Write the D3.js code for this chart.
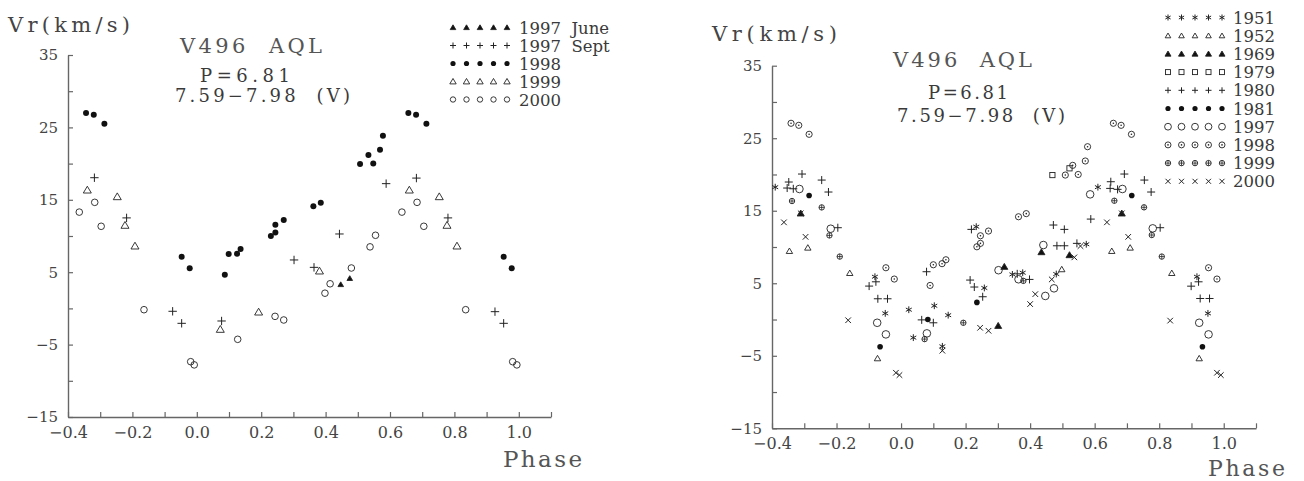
<!DOCTYPE html>
<html>
<head>
<meta charset="utf-8">
<script src="https://cdn.jsdelivr.net/npm/d3@7"></script>
<style>
  body { margin: 0; background: #fff; }
  text { font-family: "DejaVu Serif", serif; fill: #3a3a3a; }
</style>
</head>
<body>
<div id="main-container"></div>
<script>
// DATA  (phase, Vr km/s)
const phaseLabels = [-0.4, -0.2, 0.0, 0.2, 0.4, 0.6, 0.8, 1.0];
const vrLabels = [35, 25, 15, 5, -5, -15];

// left panel
const june97L = [[0.447,3.3],[0.475,4.15]];
const sept97L = [[-0.318,18.05],[-0.218,12.5],[-0.075,-0.4],[-0.047,-2.06],[0.077,-1.74],[0.302,6.69],
  [0.364,5.67],[0.443,10.28],[0.588,17.23],[0.682,18.0],[0.780,12.5],[0.926,-0.45],[0.953,-2.06]];
const y1998L = [[-0.344,27.0],[-0.320,26.75],[-0.287,25.5],[-0.047,7.14],[-0.022,5.54],[0.087,4.66],
  [0.099,7.5],[0.125,7.56],[0.136,8.2],[0.230,10.0],[0.244,10.5],[0.244,11.57],[0.270,12.2],[0.362,14.1],
  [0.385,14.6],[0.507,19.94],[0.548,20.0],[0.533,21.2],[0.569,21.9],[0.578,23.85],[0.657,27.0],
  [0.681,26.75],[0.713,25.5],[0.953,7.14],[0.978,5.54]];
const y1999L = [[-0.340,16.35],[-0.247,15.43],[-0.223,11.48],[-0.192,8.62],[0.073,-2.89],[0.192,-0.5],
  [0.381,5.17],[0.660,16.35],[0.753,15.43],[0.777,11.48],[0.808,8.62]];
const y2000L = [[-0.365,13.3],[-0.317,14.65],[-0.297,11.34],[-0.164,-0.18],[-0.019,-7.36],[-0.008,-7.8],
  [0.127,-4.27],[0.243,-1.1],[0.270,-1.6],[0.398,2.1],[0.414,3.4],[0.480,5.58],[0.538,8.5],[0.555,10.1],
  [0.637,13.3],[0.684,14.65],[0.705,11.34],[0.835,-0.18],[0.981,-7.36],[0.994,-7.8]];

// right panel
const r1951 = [[-0.390,18.25],[-0.081,5.9],[-0.049,0.85],[0.024,1.35],[0.038,-2.5],[0.103,1.9],
  [0.128,-3.7],[0.146,0.6],[0.233,12.8],[0.258,4.35],[0.345,6.22],[0.377,6.45],[0.481,6.27],
  [0.574,10.38],[0.610,18.25],[0.917,5.9],[0.951,0.85]];
const r1952 = [[-0.346,9.44],[-0.289,9.9],[-0.159,6.4],[-0.073,-5.36],[0.498,6.92],[0.653,9.44],
  [0.710,9.9],[0.839,6.4],[0.924,-5.36]];
const r1969 = [[-0.311,14.64],[0.301,-0.86],[0.320,7.28],[0.435,9.3],[0.522,8.89],[0.684,14.64]];
const r1979 = [[0.469,19.92],[0.522,20.85]];
const r1980 = [[-0.348,18.96],[-0.353,18.13],[-0.334,18.03],[-0.307,20.06],[-0.246,19.23],[-0.225,17.58],
  [-0.196,12.66],[-0.099,4.61],[-0.078,5.2],[-0.072,2.86],[-0.042,2.86],[0.064,-0.05],[0.079,6.59],
  [0.100,-0.45],[0.214,5.44],[0.218,12.43],[0.227,4.48],[0.253,3.14],[0.360,6.3],[0.398,5.53],
  [0.472,13.03],[0.483,10.17],[0.506,10.17],[0.506,12.43],[0.545,10.5],[0.588,13.85],[0.650,19.0],
  [0.648,18.08],[0.671,17.95],[0.692,20.06],[0.754,19.23],[0.775,17.58],[0.803,12.66],[0.899,4.6],
  [0.922,5.2],[0.927,2.9],[0.956,2.9]];
const r1981 = [[-0.285,17.1],[-0.065,-3.76],[0.083,0.0],[0.235,2.36],[0.715,17.1],[0.934,-3.76]];
const r1997 = [[-0.315,18.0],[-0.218,12.52],[-0.074,-0.45],[-0.047,-2.05],[0.080,-1.91],[0.302,6.8],
  [0.364,5.55],[0.441,10.27],[0.447,3.25],[0.474,4.3],[0.586,17.26],[0.686,18.0],[0.780,12.57],
  [0.924,-0.45],[0.953,-2.05]];
const r1998 = [[-0.341,27.06],[-0.317,26.78],[-0.285,25.54],[-0.047,7.14],[-0.021,5.58],[0.090,4.7],
  [0.100,7.55],[0.127,7.7],[0.139,8.24],[0.235,10.03],[0.246,10.5],[0.246,11.55],[0.271,12.2],
  [0.364,14.17],[0.388,14.6],[0.509,19.92],[0.549,20.0],[0.532,21.26],[0.571,21.86],[0.578,23.83],
  [0.658,27.06],[0.682,26.78],[0.714,25.54],[0.953,7.14],[0.979,5.58]];
const r1999 = [[-0.338,16.34],[-0.246,15.46],[-0.222,11.6],[-0.190,8.68],[0.073,-2.7],[0.193,-0.45],
  [0.379,5.33],[0.661,16.38],[0.753,15.47],[0.777,11.65],[0.808,8.68]];
const r2000 = [[-0.363,13.4],[-0.311,14.64],[-0.296,11.4],[-0.164,-0.1],[-0.016,-7.34],[-0.005,-7.66],
  [0.128,-4.3],[0.245,-1.14],[0.271,-1.55],[0.400,2.13],[0.416,3.5],[0.467,5.53],[0.537,8.57],
  [0.556,10.13],[0.638,13.4],[0.684,14.64],[0.704,11.4],[0.834,-0.15],[0.979,-7.34],[0.991,-7.66]];

const leftSeries = [
  {label: "1997  June", data: june97L, type: "triFill", size: 2.8, lsize: 2.8},
  {label: "1997  Sept", data: sept97L, type: "plus", size: 4.2, lsize: 3},
  {label: "1998", data: y1998L, type: "dot", size: 3, lsize: 2.6},
  {label: "1999", data: y1999L, type: "tri", size: 4, lsize: 3.2},
  {label: "2000", data: y2000L, type: "circle", size: 3.3, lsize: 2.7}
];
const rightSeries = [
  {label: "1951", data: r1951, type: "star", size: 3.4, lsize: 3},
  {label: "1952", data: r1952, type: "tri", size: 3.2, lsize: 2.8},
  {label: "1969", data: r1969, type: "triFill", size: 3.5, lsize: 3},
  {label: "1979", data: r1979, type: "square", size: 2.6, lsize: 2.5},
  {label: "1980", data: r1980, type: "plus", size: 4, lsize: 3},
  {label: "1981", data: r1981, type: "dot", size: 2.8, lsize: 2.6},
  {label: "1997", data: r1997, type: "circle", size: 3.8, lsize: 3.4},
  {label: "1998", data: r1998, type: "odot", size: 3.1, lsize: 3},
  {label: "1999", data: r1999, type: "oplus", size: 2.7, lsize: 2.7},
  {label: "2000", data: r2000, type: "times", size: 2.8, lsize: 2.5}
];

const ink = "#222";

function drawMark(g, type, s) {
  if (type === "dot") {
    g.append("circle").attr("r", s).attr("fill", "#111");
  } else if (type === "circle" || type === "odot" || type === "oplus") {
    g.append("circle").attr("r", s).attr("fill", "none").attr("stroke", ink).attr("stroke-width", 0.9);
    if (type === "odot") g.append("circle").attr("r", 0.8).attr("fill", ink);
    if (type === "oplus") g.append("path").attr("d", `M${-s},0H${s}M0,${-s}V${s}`)
      .attr("stroke", ink).attr("stroke-width", 0.8);
  } else if (type === "tri" || type === "triFill") {
    g.append("path").attr("d", `M0,${-s * 0.95}L${s},${s * 0.75}L${-s},${s * 0.75}Z`)
      .attr("fill", type === "triFill" ? "#111" : "none")
      .attr("stroke", ink).attr("stroke-width", 0.9);
  } else if (type === "square") {
    g.append("rect").attr("x", -s).attr("y", -s).attr("width", 2 * s).attr("height", 2 * s)
      .attr("fill", "none").attr("stroke", ink).attr("stroke-width", 0.9);
  } else {
    let d;
    if (type === "plus") d = `M${-s},0H${s}M0,${-s}V${s}`;
    else if (type === "times") d = `M${-s},${-s}L${s},${s}M${-s},${s}L${s},${-s}`;
    else {
      const a = s * 0.87, b = s * 0.5;
      d = `M0,${-s}V${s}M${-a},${-b}L${a},${b}M${-a},${b}L${a},${-b}`;
    }
    g.append("path").attr("d", d).attr("stroke", ink).attr("stroke-width", 1).attr("fill", "none");
  }
}

function drawPanel(svg, cfg) {
  const x = d3.scaleLinear().domain([-0.4, 1.1]).range(cfg.xr);
  const y = d3.scaleLinear().domain([-15, 35]).range(cfg.yr);

  const xAxis = svg.append("g")
    .attr("transform", `translate(0, ${cfg.yr[0]})`)
    .call(d3.axisBottom(x)
      .tickValues(d3.range(-4, 12).map(d => d / 10))
      .tickSizeInner(-5).tickSizeOuter(0).tickPadding(9.6)
      .tickFormat(d => phaseLabels.some(p => Math.abs(p - d) < 1e-9) ? d3.format(".1f")(d) : ""));

  const yAxis = svg.append("g")
    .attr("transform", `translate(${cfg.xr[0]}, 0)`)
    .call(d3.axisLeft(y)
      .tickValues(d3.range(-15, 40, 5))
      .tickSizeInner(-5).tickSizeOuter(0).tickPadding(10)
      .tickFormat(d => vrLabels.includes(d) ? d3.format("d")(d) : ""));

  [xAxis, yAxis].forEach(a => {
    a.attr("font-family", null);
    a.select(".domain").attr("stroke", "#666").attr("stroke-width", 1.4);
    a.selectAll(".tick line").attr("stroke", "#666").attr("stroke-width", 1.2);
    a.selectAll(".tick text")
      .style("font-family", '"DejaVu Serif", serif')
      .style("fill", "#444");
  });
  xAxis.selectAll(".tick text").style("font-size", "16px");
  yAxis.selectAll(".tick text").style("font-size", "15px");

  // texts
  cfg.texts.forEach(t => {
    svg.append("text")
      .attr("x", t.x).attr("y", t.y)
      .attr("font-size", t.fs)
      .attr("textLength", t.w)
      .attr("lengthAdjust", "spacing")
      .attr("xml:space", "preserve")
      .style("fill", t.fill || "#3a3a3a")
      .text(t.s);
  });

  // marks
  cfg.series.forEach(s => {
    svg.append("g").selectAll("g")
      .data(s.data)
      .join("g")
        .attr("transform", d => `translate(${x(d[0])}, ${y(d[1])})`)
        .each(function () { drawMark(d3.select(this), s.type, s.size); });
  });

  // legend
  const lg = cfg.legend;
  cfg.series.forEach((s, i) => {
    const cy = lg.y + i * lg.dy;
    for (let k = 0; k < 5; k++) {
      const g = svg.append("g").attr("transform", `translate(${lg.x + k * 13.5}, ${cy})`);
      drawMark(g, s.type, s.lsize);
    }
    svg.append("text")
      .attr("x", lg.tx).attr("y", cy + 6)
      .attr("font-size", 16.5)
      .attr("xml:space", "preserve")
      .text(s.label);
  });
}

const svg = d3.select("#main-container")
  .append("svg")
    .attr("width", 1304)
    .attr("height", 481);

drawPanel(svg, {
  xr: [68, 551], yr: [417, 55],
  series: leftSeries,
  legend: {x: 453, y: 27.5, dy: 18, tx: 519},
  texts: [
    {s: "Vr(km/s)", x: 8, y: 32, fs: 21, w: 122, fill: "#444"},
    {s: "V496  AQL", x: 180, y: 53, fs: 21, w: 142, fill: "#555"},
    {s: "P=6.81", x: 200, y: 81.5, fs: 18, w: 90},
    {s: "7.59\u22127.98  (V)", x: 175, y: 102, fs: 18, w: 175},
    {s: "Phase", x: 503, y: 466.7, fs: 23, w: 79, fill: "#555"}
  ]
});

drawPanel(svg, {
  xr: [772, 1256], yr: [428.3, 65.7],
  series: rightSeries,
  legend: {x: 1168, y: 17.5, dy: 18.2, tx: 1233},
  texts: [
    {s: "Vr(km/s)", x: 712, y: 41, fs: 21, w: 125, fill: "#444"},
    {s: "V496  AQL", x: 893, y: 66.7, fs: 21, w: 139, fill: "#555"},
    {s: "P=6.81", x: 928, y: 99, fs: 18, w: 80},
    {s: "7.59\u22127.98  (V)", x: 897, y: 121.7, fs: 18, w: 168},
    {s: "Phase", x: 1208, y: 475.5, fs: 22, w: 77, fill: "#555"}
  ]
});
</script>
</body>
</html>
